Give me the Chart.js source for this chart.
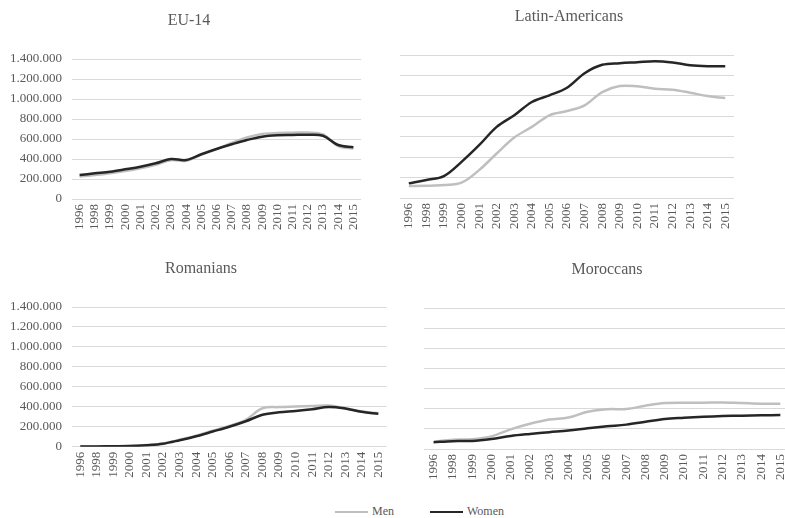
<!DOCTYPE html>
<html><head><meta charset="utf-8">
<script src="https://cdn.jsdelivr.net/npm/chart.js@4"></script>
<style>
html,body{margin:0;padding:0;width:785px;height:518px;overflow:hidden;background:#fff;}
.p{position:absolute;}
.ttl{position:absolute;width:240px;text-align:center;font-family:'Liberation Serif',serif;font-size:16px;line-height:19px;color:#595959;}
.leg{position:absolute;font-family:'Liberation Serif',serif;font-size:12px;color:#595959;line-height:14px;}
.ln{position:absolute;height:2px;}
</style></head><body>
<div class="p" style="left:0px;top:0px;width:378px;height:240px"><canvas id="c1"></canvas></div>
<div class="p" style="left:392px;top:0px;width:354px;height:240px"><canvas id="c2"></canvas></div>
<div class="p" style="left:0px;top:250px;width:402px;height:240px"><canvas id="c3"></canvas></div>
<div class="p" style="left:395px;top:250px;width:424px;height:240px"><canvas id="c4"></canvas></div>
<div class="ttl" id="t1" style="left:69px;top:10px"></div>
<div class="ttl" id="t2" style="left:449px;top:6px"></div>
<div class="ttl" id="t3" style="left:81px;top:258px"></div>
<div class="ttl" id="t4" style="left:487px;top:259px"></div>
<div class="ln" style="left:335px;top:511px;width:33px;background:#bfbfbf"></div>
<div class="leg" id="l1" style="left:372px;top:504px"></div>
<div class="ln" style="left:430px;top:511px;width:33px;background:#262626"></div>
<div class="leg" id="l2" style="left:467px;top:504px"></div>
<script>
const years = ['1996','1998','1999','2000','2001','2002','2003','2004','2005','2006','2007','2008','2009','2010','2011','2012','2013','2014','2015'];
const yTickValues = [0,200000,400000,600000,800000,1000000,1200000,1400000];
const seriesNames = ['Men','Women'];
const panelTitles = ['EU-14','Latin-Americans','Romanians','Moroccans'];

const eu14Men   = [225000,240000,258000,280000,308000,343000,388000,383000,443000,498000,560000,615000,650000,660000,663000,665000,645000,530000,505000];
const eu14Women = [240000,257000,273000,297000,323000,357000,400000,390000,447000,500000,547000,590000,623000,637000,640000,643000,633000,540000,517000];
const latMen    = [117000,120000,127000,150000,273000,436000,592000,696000,810000,852000,907000,1037000,1096000,1093000,1070000,1060000,1031000,998000,978000];
const latWomen  = [143000,176000,215000,354000,517000,696000,810000,940000,1005000,1080000,1222000,1304000,1320000,1330000,1340000,1327000,1300000,1290000,1290000];
const romMen    = [2000,3000,4000,7000,17000,33000,70000,110000,160000,208000,270000,385000,397000,402000,407000,412000,385000,352000,335000];
const romWomen  = [2000,3000,4000,6000,15000,30000,65000,105000,152000,200000,255000,320000,345000,358000,375000,398000,383000,350000,330000];
const morMen    = [72000,92000,97000,125000,195000,250000,292000,312000,370000,395000,397000,430000,456000,460000,460000,462000,456000,450000,450000];
const morWomen  = [68000,78000,80000,100000,130000,150000,167000,183000,205000,225000,242000,270000,298000,310000,320000,327000,331000,334000,337000];

const FONT = "'Liberation Serif', 'Times New Roman', serif";
const TXT = '#595959';
function fmt(v){ return String(v).replace(/\B(?=(\d{3})+(?!\d))/g, '.'); }

panelTitles.forEach((t, i) => { document.getElementById('t' + (i + 1)).textContent = t; });
document.getElementById('l1').textContent = seriesNames[0];
document.getElementById('l2').textContent = seriesNames[1];

function makeChart(id, men, women, o){
  new Chart(document.getElementById(id), {
    type: 'line',
    data: {
      labels: years,
      datasets: [
        {label: seriesNames[0], data: men, borderColor: '#bfbfbf', borderWidth: 2.5, pointRadius: 0, tension: 0.35, fill: false, order: 1},
        {label: seriesNames[1], data: women, borderColor: '#262626', borderWidth: 2.5, pointRadius: 0, tension: 0.35, fill: false, order: 0}
      ]
    },
    options: {
      responsive: true, maintainAspectRatio: false, animation: false,
      layout: {padding: {left: o.padL, right: o.padR, top: o.padT, bottom: 0}},
      plugins: {
        legend: {display: false},
        tooltip: {enabled: false},
        title: {display: false}
      },
      scales: {
        x: {
          offset: true,
          grid: {display: false, drawTicks: false},
          border: {display: false},
          ticks: {autoSkip: false, minRotation: 90, maxRotation: 90, padding: 5, color: TXT, font: {family: FONT, size: 13}},
          afterFit: s => { s.height = o.xH; }
        },
        y: {
          min: 0, max: 1400000,
          afterBuildTicks: s => { s.ticks = yTickValues.map(v => ({value: v})); },
          grid: {color: '#d9d9d9', lineWidth: 1, drawTicks: false},
          border: {display: false},
          ticks: {display: o.showY, padding: 10, color: TXT, font: {family: FONT, size: 13}, callback: v => fmt(v)},
          afterFit: s => { s.width = o.yW; }
        }
      }
    }
  });
}

makeChart('c1', eu14Men, eu14Women, {padL: 0, padR: 17, padT: 59, xH: 41, showY: true, yW: 72});
makeChart('c2', latMen, latWomen, {padL: 8, padR: 6, padT: 55, xH: 42, showY: false, yW: 0});
makeChart('c3', romMen, romWomen, {padL: 0, padR: 15.4, padT: 57, xH: 43.3, showY: true, yW: 72});
makeChart('c4', morMen, morWomen, {padL: 29, padR: 29, padT: 58, xH: 41, showY: false, yW: 0});
</script>
</body></html>
